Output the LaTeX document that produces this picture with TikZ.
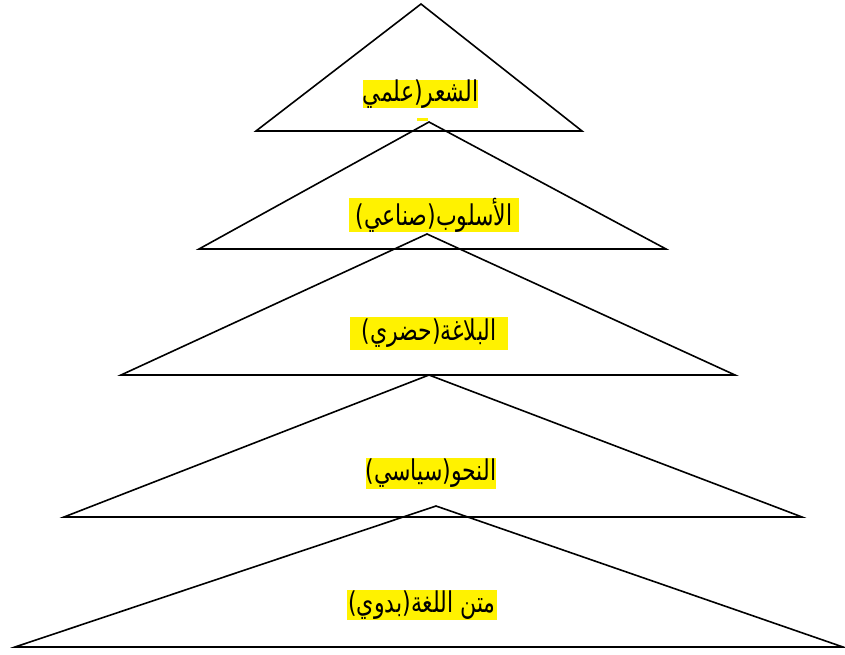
\documentclass[tikz,border=0pt]{standalone}
\usepackage{graphicx}
\usepackage{fontspec}
\TeXXeTstate=1
\newfontfamily\arabicfont[Script=Arabic]{DejaVu Sans}
\newcommand{\tallar}[1]{\scalebox{1}[1.3]{\beginR #1\endR}}
\begin{document}
\begin{tikzpicture}[x=1pt,y=-1pt,
  tri/.style={draw=black,line width=1.6pt,line join=miter},
  tag/.style={fill=yellow,inner sep=0pt,font=\arabicfont\fontsize{22}{26}\selectfont,anchor=center}]
\useasboundingbox (0,0) rectangle (845,655);
% five stacked triangles, top to bottom
\draw[tri] (421,4) -- (582,131) -- (256,131) -- cycle;
\draw[tri] (429,122) -- (666,249) -- (199,249) -- cycle;
\draw[tri] (427,234) -- (735,375) -- (121,375) -- cycle;
\draw[tri] (429,375) -- (802,517) -- (64,517) -- cycle;
\draw[tri] (436,506) -- (843,647) -- (15,647) -- cycle;
% small highlight mark under the top label
\fill[yellow] (417,118) rectangle (428,121);
% highlighted labels
\node[tag,minimum width=115pt,minimum height=28pt] (l1) at (420.5,94) {\tallar{الشعر(علمي}};
\node[tag,minimum width=170pt,minimum height=30pt] (l2) at (434,215) {\tallar{الأسلوب(صناعي)}};
\node[tag,minimum width=158pt,minimum height=33pt] (l3) at (429,333) {\tallar{البلاغة(حضري)}};
\node[tag,minimum width=130pt,minimum height=31pt] (l4) at (431,473.5) {\tallar{النحو(سياسي)}};
\node[tag,minimum width=150pt,minimum height=30pt] (l5) at (422,605) {\tallar{متن اللغة(بدوي)}};
\end{tikzpicture}
\end{document}
